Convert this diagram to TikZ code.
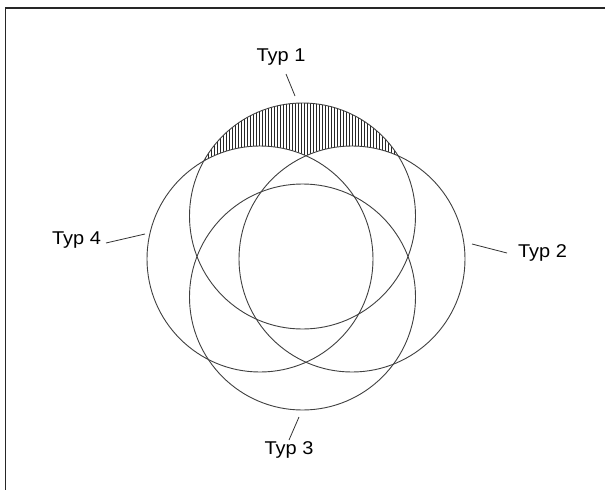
\documentclass[tikz,border=0pt]{standalone}
\usepackage{fontspec}
\setmainfont{Liberation Sans}
\newfontfamily\lblfont[FakeStretch=1.08]{Liberation Sans}
\begin{document}
\begin{tikzpicture}[x=1pt,y=-1pt,
  ring/.style={draw=black!75,line width=0.9pt},
  leader/.style={draw=black!80,line width=0.8pt},
  lbl/.style={font=\lblfont\fontsize{18.5}{20}\selectfont,inner sep=0pt},
  frameline/.style={draw=black!85,line width=1.6pt}]
\useasboundingbox (0,0) rectangle (605,490);
\draw[frameline] (605,8) -- (5.5,8) -- (5.5,490);
% circle centres
\coordinate (c1) at (302.5,216);
\coordinate (c2) at (352,259);
\coordinate (c3) at (302.5,297);
\coordinate (c4) at (260,259);
% hatching: inside circle 1, outside circles 2 and 4
\begin{scope}
  \clip (c1) circle (113);
  \foreach \x in {190,193,...,416} {
    \draw[black!85,line width=0.7pt] (\x,100) -- (\x,215);
  }
\end{scope}
\fill[white] (c2) circle (113);
\fill[white] (c4) circle (113);
% circles
\draw[ring] (c1) circle (113);
\draw[ring] (c2) circle (113);
\draw[ring] (c3) circle (113);
\draw[ring] (c4) circle (113);
% labels
\node[lbl] (t1) at (281,57.5) {Typ 1};
\node[lbl] (t2) at (542.5,252.5) {Typ 2};
\node[lbl] (t3) at (289,450) {Typ 3};
\node[lbl] (t4) at (76.5,240.5) {Typ 4};
% leader lines
\coordinate (a1) at (286,74);  \coordinate (b1) at (295,96);
\coordinate (a2) at (507,253); \coordinate (b2) at (472,244);
\coordinate (a3) at (289,440); \coordinate (b3) at (299,417);
\coordinate (a4) at (106,243); \coordinate (b4) at (145,234);
\draw[leader] (a1) -- (b1);
\draw[leader] (a2) -- (b2);
\draw[leader] (a3) -- (b3);
\draw[leader] (a4) -- (b4);
\end{tikzpicture}
\end{document}
